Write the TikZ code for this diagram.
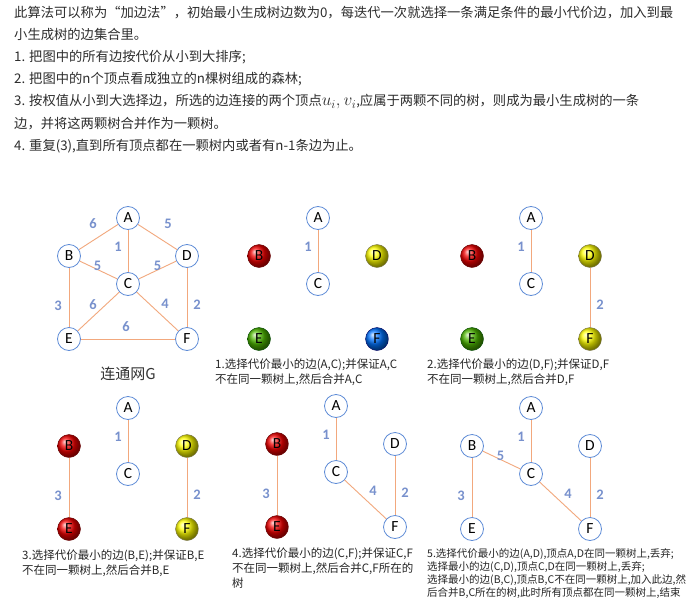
\documentclass[tikz,border=0pt]{standalone}
\usepackage{fontspec}
\setmainfont{Noto Sans CJK SC}
\newfontfamily\letterfont{Carlito}
\usetikzlibrary{positioning}

\definecolor{vblue}{RGB}{95,140,215}
\definecolor{edgec}{RGB}{242,168,125}
\definecolor{wtc}{RGB}{120,145,205}
\definecolor{txtc}{RGB}{45,45,45}

\begin{document}
\begin{tikzpicture}[
    x=1pt, y=-1pt,
    vtx/.style={circle, draw=vblue, fill=white, line width=0.8pt, minimum size=23pt, inner sep=0pt,
        font=\letterfont\fontsize{15.5}{15.5}\selectfont},
    redball/.style={vtx, draw=red!40!black, line width=0.4pt, shading=ball, ball color=red!95!black},
    yellowball/.style={vtx, draw=yellow!40!black, line width=0.4pt, shading=ball, ball color=yellow},
    greenball/.style={vtx, draw=green!30!black, line width=0.4pt, shading=ball, ball color=green!60!black!70!yellow},
    blueball/.style={vtx, draw=blue!40!black, line width=0.4pt, shading=ball, ball color=blue!55!cyan},
    mst_edge/.style={edgec, line width=0.9pt},
    weight/.style={font=\letterfont\bfseries\fontsize{14.5}{14.5}\selectfont, text=wtc, inner sep=0pt},
    intro/.style={anchor=west, inner sep=0pt, text=txtc, font=\fontsize{13.3}{13.3}\selectfont},
    caption/.style={anchor=west, align=left, inner sep=0pt, text=black!85,
        font=\fontsize{11.5}{15}\selectfont}
]
    \useasboundingbox[fill=white] (0,0) rectangle (690,610);

    % ======================================================================
    % EINLEITUNG
    % ======================================================================
    \foreach \t [count=\i] in {
        {此算法可以称为“加边法”，初始最小生成树边数为0，每迭代一次就选择一条满足条件的最小代价边，加入到最},
        {小生成树的边集合里。},
        {1. 把图中的所有边按代价从小到大排序;},
        {2. 把图中的n个顶点看成独立的n棵树组成的森林;},
        {3. 按权值从小到大选择边，所选的边连接的两个顶点{\fontsize{18}{18}\selectfont$u_i, v_i$},应属于两颗不同的树，则成为最小生成树的一条},
        {边，并将这两颗树合并作为一颗树。},
        {4. 重复(3),直到所有顶点都在一颗树内或者有n-1条边为止。}}
        \node[intro] (line\i) at (14, {12.5 + 22.3*(\i-1)}) {\t};

    % ======================================================================
    % PANEL 1: CONNECTED NET G
    % ======================================================================
    \begin{scope}[shift={(128,218)}]
        \foreach \n/\x/\y in {A/0/0, B/-59/38, C/0/66, D/59/38, E/-59/121, F/59/121}
            \node[vtx] (\n1) at (\x,\y) {\n};

        \draw[mst_edge] (A1) -- (B1) node[weight, midway, shift={(-5.5,-13)}] {6};
        \draw[mst_edge] (A1) -- (D1) node[weight, midway, shift={(10.5,-13)}] {5};
        \draw[mst_edge] (A1) -- (C1) node[weight, midway, shift={(-10,-4)}] {1};
        \draw[mst_edge] (B1) -- (C1) node[weight, midway, shift={(-1,-4)}] {5};
        \draw[mst_edge] (D1) -- (C1) node[weight, midway, shift={(0,-4)}] {5};
        \draw[mst_edge] (B1) -- (E1) node[weight, midway, shift={(-11,8)}] {3};
        \draw[mst_edge] (C1) -- (E1) node[weight, midway, shift={(-5.5,-6.5)}] {6};
        \draw[mst_edge] (C1) -- (F1) node[weight, midway, shift={(7.5,-7.5)}] {4};
        \draw[mst_edge] (D1) -- (F1) node[weight, midway, shift={(10,7.5)}] {2};
        \draw[mst_edge] (E1) -- (F1) node[weight, midway, shift={(-2,-12)}] {6};

        \node[text=black!80, font=\fontsize{15}{15}\selectfont] (title1) at (0,156) {连通网G};
    \end{scope}

    % ======================================================================
    % PANEL 2: EDGE (A,C)
    % ======================================================================
    \begin{scope}[shift={(318,218)}]
        \foreach \n/\x/\y/\s in {A/0/0/vtx, B/-59/38/redball, C/0/66/vtx, D/59/38/yellowball,
                                 E/-59/121/greenball, F/59/121/blueball}
            \node[\s] (\n2) at (\x,\y) {\n};

        \draw[mst_edge] (A2) -- (C2) node[weight, midway, shift={(-10,-4)}] {1};
    \end{scope}
    \node[caption] (cap2) at (215,372.5)
        {1.选择代价最小的边(A,C);并保证A,C\\不在同一颗树上,然后合并A,C};

    % ======================================================================
    % PANEL 3: EDGE (D,F)
    % ======================================================================
    \begin{scope}[shift={(531,218)}]
        \foreach \n/\x/\y/\s in {A/0/0/vtx, B/-59/38/redball, C/0/66/vtx, D/59/38/yellowball,
                                 E/-59/121/greenball, F/59/121/yellowball}
            \node[\s] (\n3) at (\x,\y) {\n};

        \draw[mst_edge] (A3) -- (C3) node[weight, midway, shift={(-10,-4)}] {1};
        \draw[mst_edge] (D3) -- (F3) node[weight, midway, shift={(10,7.5)}] {2};
    \end{scope}
    \node[caption] (cap3) at (427,372.5)
        {2.选择代价最小的边(D,F);并保证D,F\\不在同一颗树上,然后合并D,F};

    % ======================================================================
    % PANEL 4: EDGE (B,E)
    % ======================================================================
    \begin{scope}[shift={(128,408)}]
        \foreach \n/\x/\y/\s in {A/0/0/vtx, B/-59/38/redball, C/0/66/vtx, D/59/38/yellowball,
                                 E/-59/121/redball, F/59/121/yellowball}
            \node[\s] (\n4) at (\x,\y) {\n};

        \draw[mst_edge] (A4) -- (C4) node[weight, midway, shift={(-10,-4)}] {1};
        \draw[mst_edge] (B4) -- (E4) node[weight, midway, shift={(-11,8)}] {3};
        \draw[mst_edge] (D4) -- (F4) node[weight, midway, shift={(10,7.5)}] {2};
    \end{scope}
    \node[caption] (cap4) at (22,563.5)
        {3.选择代价最小的边(B,E);并保证B,E\\不在同一颗树上,然后合并B,E};

    % ======================================================================
    % PANEL 5: EDGE (C,F)
    % ======================================================================
    \begin{scope}[shift={(336,406)}]
        \foreach \n/\x/\y/\s in {A/0/0/vtx, B/-59/38/redball, C/0/66/vtx, D/59/38/vtx,
                                 E/-59/121/redball, F/59/121/vtx}
            \node[\s] (\n5) at (\x,\y) {\n};

        \draw[mst_edge] (A5) -- (C5) node[weight, midway, shift={(-10,-4)}] {1};
        \draw[mst_edge] (B5) -- (E5) node[weight, midway, shift={(-11,8)}] {3};
        \draw[mst_edge] (C5) -- (F5) node[weight, midway, shift={(7.5,-9)}] {4};
        \draw[mst_edge] (D5) -- (F5) node[weight, midway, shift={(10,7.5)}] {2};
    \end{scope}
    \node[caption] (cap5) at (232,568)
        {4.选择代价最小的边(C,F);并保证C,F\\不在同一颗树上,然后合并C,F所在的\\树};

    % ======================================================================
    % PANEL 6: EDGE (B,C)
    % ======================================================================
    \begin{scope}[shift={(531,408)}]
        \foreach \n/\x/\y in {A/0/0, B/-59/38, C/0/66, D/59/38, E/-59/121, F/59/121}
            \node[vtx] (\n6) at (\x,\y) {\n};

        \draw[mst_edge] (A6) -- (C6) node[weight, midway, shift={(-10,-4)}] {1};
        \draw[mst_edge] (B6) -- (C6) node[weight, midway, shift={(-1,-4)}] {5};
        \draw[mst_edge] (B6) -- (E6) node[weight, midway, shift={(-11,8)}] {3};
        \draw[mst_edge] (C6) -- (F6) node[weight, midway, shift={(7.5,-7.5)}] {4};
        \draw[mst_edge] (D6) -- (F6) node[weight, midway, shift={(10,7.5)}] {2};
    \end{scope}
    \node[caption, font=\fontsize{10.5}{13}\selectfont] (cap6) at (427,573.5)
        {5.选择代价最小的边(A,D),顶点A,D在同一颗树上,丢弃;\\
         选择最小的边(C,D),顶点C,D在同一颗树上,丢弃;\\
         选择最小的边(B,C),顶点B,C不在同一颗树上,加入此边,然\\
         后合并B,C所在的树,此时所有顶点都在同一颗树上,结束};

\end{tikzpicture}
\end{document}
